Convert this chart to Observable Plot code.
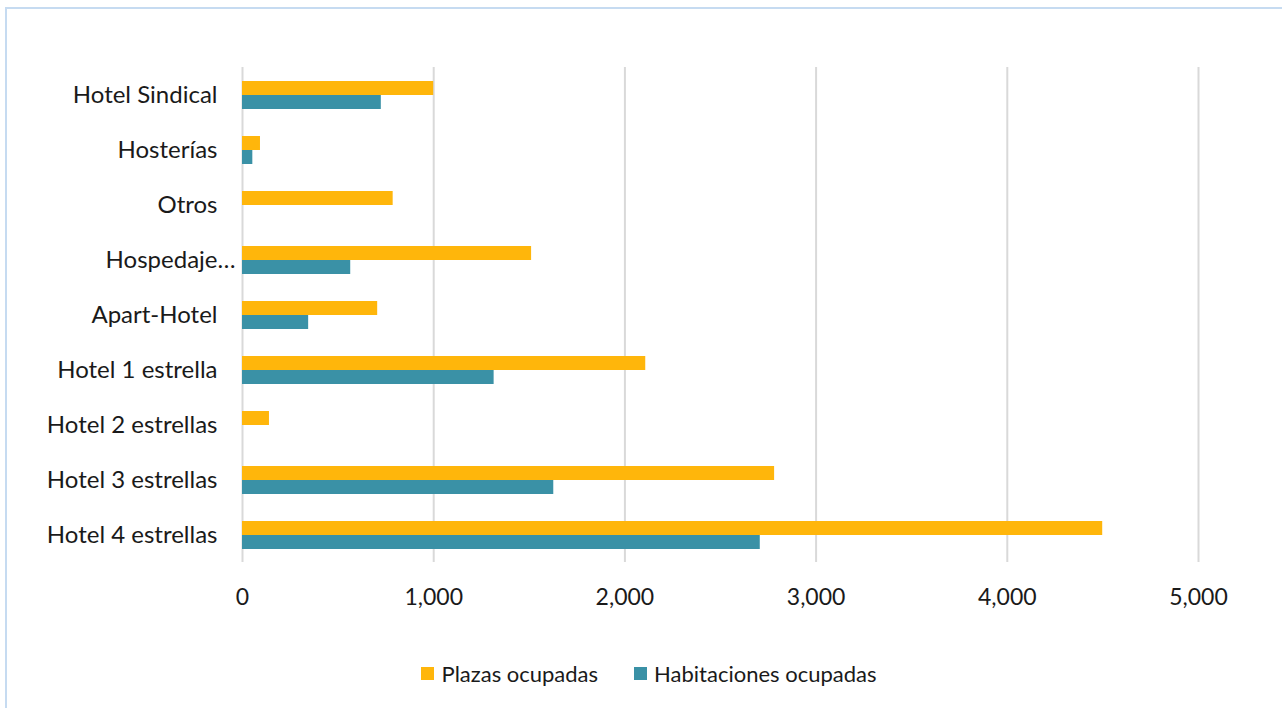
<!DOCTYPE html>
<html>
<head>
<meta charset="utf-8">
<script src="https://cdn.jsdelivr.net/npm/d3@7"></script>
<script src="https://cdn.jsdelivr.net/npm/@observablehq/plot@0.6"></script>
<style>
  html, body { margin: 0; padding: 0; background: #fff; }
  #wrap { position: relative; width: 1282px; height: 708px; overflow: hidden; font-family: Lato, "Open Sans", sans-serif; }
  #frame { position: absolute; left: 5px; top: 7px; width: 1300px; height: 720px; border: 2px solid #C6DBF1; box-sizing: border-box; }
  #chart { position: absolute; left: 0; top: 0; }
  #legend { position: absolute; top: 660px; left: 0; width: 1298px; display: flex; justify-content: center; gap: 36px; font-size: 22px; color: #1a1a1a; }
  #legend .item { display: flex; align-items: center; gap: 7px; }
  #legend .sw { width: 13px; height: 13px; display: inline-block; }
</style>
</head>
<body>
<div id="wrap">
  <div id="frame"></div>
  <div id="chart"></div>
  <div id="legend"></div>
</div>
<script>
const categories = ["Hotel Sindical", "Hosterías", "Otros", "Hospedaje…", "Apart-Hotel", "Hotel 1 estrella", "Hotel 2 estrellas", "Hotel 3 estrellas", "Hotel 4 estrellas"];
const seriesNames = ["Plazas ocupadas", "Habitaciones ocupadas"];
const plazas = [1000, 94, 788, 1512, 707, 2109, 141, 2783, 4499];
const habitaciones = [726, 54, 0, 566, 346, 1316, 0, 1628, 2708];
const xTicks = [0, 1000, 2000, 3000, 4000, 5000];
const colors = ["#FFB60B", "#3A91A6"];

const data = [];
categories.forEach((c, i) => {
  data.push({category: c, series: seriesNames[0], value: plazas[i]});
  data.push({category: c, series: seriesNames[1], value: habitaciones[i]});
});

const fmt = d3.format(",");
const shortLabel = "Hospedaje…";

const chart = Plot.plot({
  width: 1282,
  height: 640,
  marginTop: 66,
  marginBottom: 77,
  marginLeft: 242,
  marginRight: 84,
  style: {fontFamily: "Lato, 'Open Sans', sans-serif", fontSize: "22px", color: "#1a1a1a", background: "transparent"},
  x: {domain: [0, 5000], axis: null, label: null},
  y: {domain: seriesNames, paddingInner: 0, paddingOuter: 0.93, axis: null, label: null},
  fy: {domain: categories, padding: 0, axis: null, label: null},
  color: {domain: seriesNames, range: colors},
  marks: [
    Plot.gridX(xTicks, {stroke: "#D9D9D9", strokeOpacity: 1, strokeWidth: 2}),
    Plot.barX(data, {fy: "category", y: "series", x: "value", fill: "series"}),
    Plot.axisX(xTicks, {anchor: "bottom", tickSize: 0, tickPadding: 26, tickFormat: fmt, fontSize: 23, label: null, fill: "#1a1a1a"}),
    Plot.text(categories.filter(c => c !== shortLabel), {fy: d => d, text: d => d, frameAnchor: "left", textAnchor: "end", dx: -25, fontSize: 24, fill: "#1a1a1a"}),
    Plot.text([shortLabel], {fy: d => d, text: d => d, frameAnchor: "left", textAnchor: "end", dx: -7, fontSize: 24, fill: "#1a1a1a"})
  ]
});
document.getElementById("chart").appendChild(chart);

const legend = document.getElementById("legend");
seriesNames.forEach((s, i) => {
  const item = document.createElement("div");
  item.className = "item";
  const sw = document.createElement("span");
  sw.className = "sw";
  sw.style.background = colors[i];
  const t = document.createElement("span");
  t.textContent = s;
  item.appendChild(sw);
  item.appendChild(t);
  legend.appendChild(item);
});
</script>
</body>
</html>
